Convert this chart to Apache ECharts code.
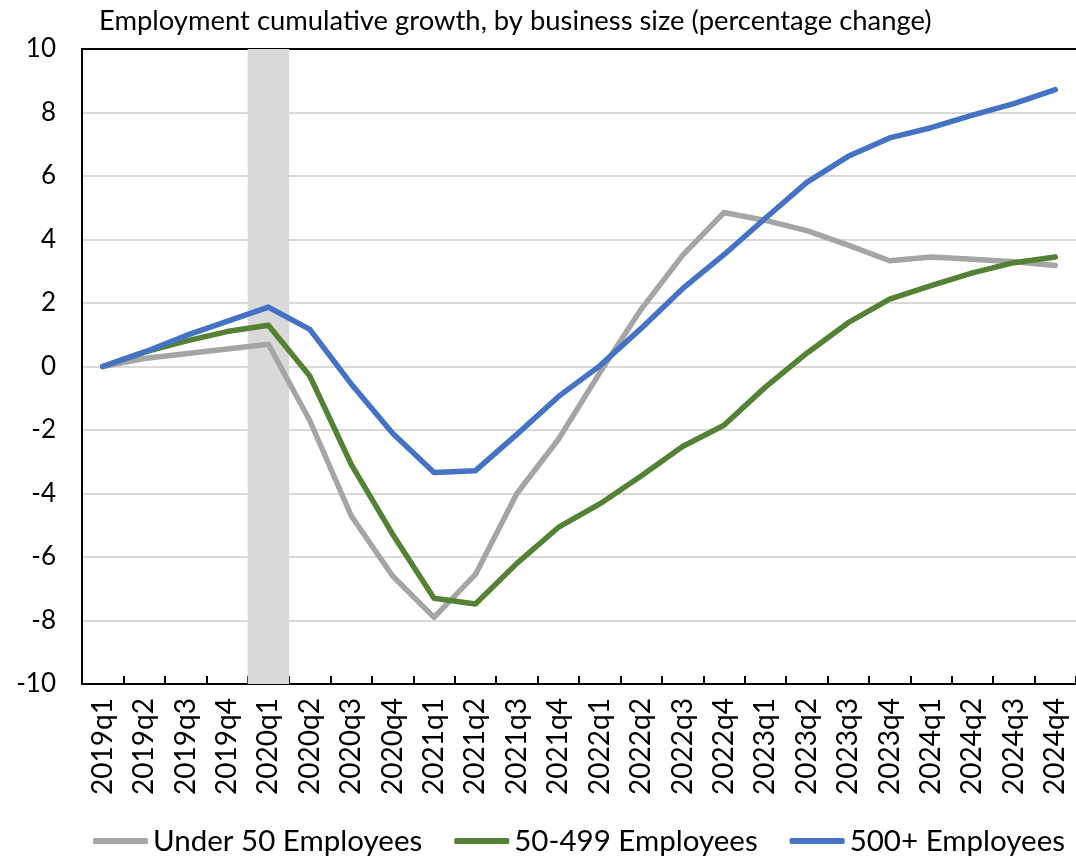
<!DOCTYPE html>
<html>
<head>
<meta charset="utf-8">
<script src="https://cdn.jsdelivr.net/npm/echarts@6/dist/echarts.min.js"></script>
<style>
  html, body { margin: 0; padding: 0; background: #fff; }
  #chart { width: 1076px; height: 856px; }
</style>
</head>
<body>
<div id="chart"></div>
<script>
// quarters on the x axis
const QUARTERS = [
  "2019q1", "2019q2", "2019q3", "2019q4",
  "2020q1", "2020q2", "2020q3", "2020q4",
  "2021q1", "2021q2", "2021q3", "2021q4",
  "2022q1", "2022q2", "2022q3", "2022q4",
  "2023q1", "2023q2", "2023q3", "2023q4",
  "2024q1", "2024q2", "2024q3", "2024q4"
];

// cumulative employment growth, %
const UNDER_50 = [0, 0.25, 0.4, 0.55, 0.7, -1.7, -4.7, -6.6, -7.9, -6.55, -4.0, -2.3,
  -0.2, 1.8, 3.5, 4.85, 4.6, 4.28, 3.82, 3.33, 3.45, 3.38, 3.3, 3.18];
const MID_50_499 = [0, 0.45, 0.8, 1.1, 1.3, -0.3, -3.08, -5.28, -7.3, -7.48, -6.2, -5.07,
  -4.33, -3.45, -2.52, -1.85, -0.65, 0.42, 1.38, 2.12, 2.55, 2.95, 3.27, 3.45];
const OVER_500 = [0, 0.45, 0.97, 1.42, 1.87, 1.17, -0.55, -2.1, -3.34, -3.28, -2.14, -0.95,
  0.02, 1.2, 2.45, 3.52, 4.67, 5.8, 6.62, 7.2, 7.52, 7.92, 8.28, 8.72];

// shaded recession quarter
const SHADED = ["2020q1"];

const Y_MIN = -10, Y_MAX = 10, Y_STEP = 2;

const FONT = "Lato";
const shadeHi = QUARTERS.map(q => SHADED.includes(q) ? Y_MAX : null);
const shadeLo = QUARTERS.map(q => SHADED.includes(q) ? Y_MIN : null);

const chart = echarts.init(document.getElementById("chart"));

const lineSeries = (name, data, color) => ({
  name,
  type: "line",
  data,
  symbol: "none",
  smooth: false,
  z: 5,
  itemStyle: { color },
  lineStyle: { color, width: 5.5, cap: "round", join: "round" }
});

chart.setOption({
  animation: false,
  backgroundColor: "#fff",
  textStyle: { fontFamily: FONT },
  title: {
    text: "Employment cumulative growth, by business size (percentage change)",
    left: 94,
    top: 3,
    textStyle: { fontFamily: FONT, fontSize: 27.4, fontWeight: "normal", color: "#000" }
  },
  grid: { left: 82, right: 0, top: 49, bottom: 172, containLabel: false },
  legend: {
    top: 821,
    left: 88,
    data: ["Under 50 Employees", "50-499 Employees", "500+ Employees"],
    icon: "roundRect",
    itemWidth: 55,
    itemHeight: 6,
    itemGap: 32,
    textStyle: { fontFamily: FONT, fontSize: 29.5, color: "#000" }
  },
  xAxis: [
    {
      type: "category",
      data: QUARTERS,
      boundaryGap: true,
      axisLine: { onZero: false, lineStyle: { color: "#000", width: 2 } },
      axisTick: { show: true, inside: true, length: 8, lineStyle: { color: "#000", width: 2 } },
      axisLabel: { rotate: 90, fontFamily: FONT, fontSize: 28, color: "#000", margin: 14 },
      splitLine: { show: false }
    },
    {
      type: "category",
      data: QUARTERS,
      position: "top",
      axisLine: { show: true, onZero: false, lineStyle: { color: "#000", width: 2 } },
      axisTick: { show: false },
      axisLabel: { show: false },
      splitLine: { show: false }
    }
  ],
  yAxis: {
    type: "value",
    min: Y_MIN,
    max: Y_MAX,
    interval: Y_STEP,
    axisLine: { show: true, lineStyle: { color: "#000", width: 2 } },
    axisTick: { show: false },
    axisLabel: { fontFamily: FONT, fontSize: 26, color: "#000", margin: 26 },
    splitLine: { lineStyle: { color: "#d9d9d9", width: 2 } }
  },
  series: [
    {
      name: "shade-hi",
      type: "bar",
      data: shadeHi,
      barCategoryGap: "0%",
      barGap: "-100%",
      itemStyle: { color: "#d9d9d9" },
      silent: true,
      z: 1
    },
    {
      name: "shade-lo",
      type: "bar",
      data: shadeLo,
      barCategoryGap: "0%",
      barGap: "-100%",
      itemStyle: { color: "#d9d9d9" },
      silent: true,
      z: 1
    },
    lineSeries("Under 50 Employees", UNDER_50, "#a5a5a5"),
    lineSeries("50-499 Employees", MID_50_499, "#548235"),
    lineSeries("500+ Employees", OVER_500, "#4472c4")
  ]
});
</script>
</body>
</html>
